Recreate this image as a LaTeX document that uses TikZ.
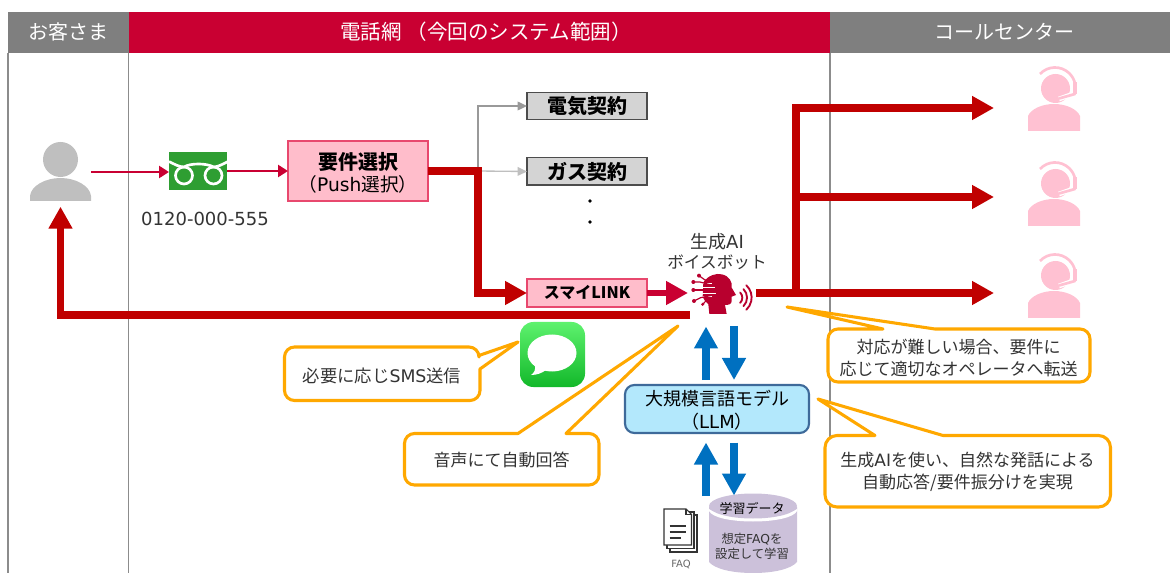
\documentclass[tikz,border=0pt]{standalone}
\usepackage{fontspec}
\setmainfont{Noto Sans CJK JP}
\newfontfamily\lat{DejaVu Sans}
\usetikzlibrary{arrows.meta,calc,shadings}
\definecolor{hdgray}{HTML}{7F7F7F}
\definecolor{hdred}{HTML}{C90032}
\definecolor{thickred}{HTML}{C00000}
\definecolor{pinkfill}{HTML}{FFBDCB}
\definecolor{pinkline}{HTML}{E8486E}
\definecolor{oppink}{HTML}{FFC1D2}
\definecolor{psngray}{HTML}{BFBFBF}
\definecolor{ored}{HTML}{FFA800}
\definecolor{lblue}{HTML}{B3E8FC}
\definecolor{lblueline}{HTML}{3E6A9A}
\definecolor{arblue}{HTML}{0070C0}
\definecolor{dbpurple}{HTML}{CCC1DA}
\definecolor{fdgreen}{HTML}{2E9E32}
\definecolor{botred}{HTML}{B8002E}
\definecolor{txt}{HTML}{333333}
\definecolor{smstop}{HTML}{5EF26E}
\definecolor{smsbot}{HTML}{12B82A}
\tikzset{
  x=0.75pt,y=-0.75pt,
  blank/.style={inner sep=0pt,outer sep=0pt},
  hdtext/.style={blank,text=white,font=\fontsize{15}{18}\selectfont},
  hdline/.style={draw=black!45,line width=1.1pt},
  rectbox/.style={blank,draw=pinkline,fill=pinkfill,line width=1.1pt,minimum height=21pt,minimum width=90pt,text=black},
  graybox/.style={blank,draw=black!70,fill=black!17,line width=1pt,minimum width=90pt,minimum height=20.5pt,text=black,font=\fontsize{15}{18}\selectfont\bfseries},
  thinred/.style={draw=hdred,line width=2.2pt,-{Triangle[length=7.5pt,width=9pt]}},
  bigred/.style={draw=thickred,line width=5.4pt,miter limit=10,-{Triangle[length=16.5pt,width=17pt]}},
  medred/.style={draw=hdred,line width=5pt,-{Triangle[length=16.5pt,width=17pt]}},
  grayarr/.style={draw=#1,line width=1pt,-{Triangle[length=7pt,width=6.5pt]}},
  bluearr/.style={draw=arblue,line width=5.4pt,-{Triangle[length=16.5pt,width=17pt]}},
  callout/.style={draw=ored,fill=white,line width=2.3pt,line join=round},
  calltext/.style={blank,align=center,text=txt,font=\fontsize{12.75}{16.5}\selectfont},
  lbl/.style={blank,align=center,text=txt},
}
\begin{document}
\begin{tikzpicture}
\useasboundingbox (0,0) rectangle (1170,573);
% header bands
\fill[hdgray] (8,12) rectangle (129,53);
\fill[hdred] (129,12) rectangle (830,53);
\fill[hdgray] (830,12) rectangle (1170,53);
\node[hdtext] (hcust) at (68,31.5) {お客さま};
\node[hdtext,font=\fontsize{15.4}{18}\selectfont] (hnet) at (486,31.5) {電話網 （今回のシステム範囲）};
\node[hdtext] (hcc) at (1004,31.5) {コールセンター};
% column rules
\draw[hdline] (8,53) -- (8,573);
\draw[hdline] (128.5,53) -- (128.5,573);
\draw[hdline] (830,53) -- (830,573);
% customer
\node[blank,minimum width=45.75pt,minimum height=45pt] (cust) at (60.5,172) {};
\fill[psngray] (60.5,159.5) circle[radius=17.5];
\fill[psngray] (30,201) -- (30,196) .. controls (31,186) and (45,178) .. (60.5,178) .. controls (76,178) and (90,186) .. (91,196) -- (91,201) -- cycle;
% free dial
\node[blank,fill=fdgreen,minimum width=43.5pt,minimum height=28.5pt] (dial) at (198,171) {};
\begin{scope}[draw=white,line width=2pt]
\draw (184,175.5) circle[radius=8.5];
\draw (213.5,175.5) circle[radius=8.5];
\draw (169,161.5) .. controls (174,164) and (179,167) .. (184,167) .. controls (190,163) and (207,163) .. (213.5,167) .. controls (218,167) and (223,164) .. (228,161.5);
\end{scope}
\node[lbl,font=\lat\fontsize{13.5}{15}\selectfont] (num) at (205,219) {0120-000-555};
% requirement box
\node[rectbox,minimum width=105pt,minimum height=45pt] (req) at (358,171) {};
\node[blank,align=center,text=black] (reqt) at (358,173) {{\fontsize{15}{18}\selectfont\bfseries 要件選択}\\[2pt]{\fontsize{14}{18}\selectfont （{\lat Push}選択）}};
\draw[thinred] (cust.east) -- (cust.east -| dial.west);
\draw[thinred] (dial.east) -- (req.west);
% menu boxes
\node[graybox] (elec) at (587,106) {電気契約};
\node[graybox] (gas) at (587,171.5) {ガス契約};
\fill[black] (590,201) circle[radius=1.8];
\fill[black] (590,222) circle[radius=1.8];
\node[rectbox,font=\fontsize{12}{15}\selectfont\bfseries] (smile) at (587,293) {スマイLINK};
\coordinate (turn) at (478,171);
\draw[grayarr=black!40] (turn) |- (elec.west);
\draw[grayarr=black!25] (turn) -- (gas.west);
\draw[bigred] (req.east) -| ($(turn)+(0,122)$) -- (smile.west);
% bot
\node[blank,minimum width=50pt,minimum height=30pt] (bot) at (722.5,293) {};
\node[lbl,font=\fontsize{13.5}{15}\selectfont] (botl) at (717,242) {生成{\lat AI}};
\node[lbl,font=\fontsize{12.5}{15}\selectfont] (botm) at (717,262) {ボイスボット};
\draw[medred] (smile.east) -- (688,293);
\begin{scope}[shift={(680,265)},x=0.25pt,y=-0.25pt]
\fill[botred] (70,52) .. controls (85,30) and (110,24) .. (125,28) .. controls (148,32) and (158,52) .. (155,68) -- (168,90) -- (155,95) -- (155,108) .. controls (155,118) and (145,120) .. (135,120) -- (140,147) -- (88,147) -- (85,118) .. controls (78,110) and (70,104) .. (68,96) -- cycle;
\begin{scope}[draw=white,line width=0.7pt]
\draw (55,56) -- (95,56); \draw (60,67) -- (105,67); \draw (50,84) -- (108,84); \draw (62,95) -- (95,95);
\end{scope}
\begin{scope}[draw=botred,line width=0.9pt]
\draw (57,32) -- (75,45) -- (100,45);
\draw (40,51) -- (60,51) -- (100,62);
\draw (40,75) -- (105,75);
\draw (42,108) -- (62,98) -- (100,90);
\draw (68,118) -- (85,100);
\end{scope}
\fill[botred] (57,32) circle[radius=6] (40,51) circle[radius=6] (40,75) circle[radius=6] (42,108) circle[radius=6] (68,118) circle[radius=5];
\begin{scope}[draw=botred,line width=1.4pt,line cap=round]
\draw (180.5,82.5) arc[start angle=-45,end angle=45,radius=22];
\draw (190.5,72.5) arc[start angle=-45,end angle=45,radius=36];
\draw (199,61) arc[start angle=-47,end angle=47,radius=50];
\end{scope}
\end{scope}
% operators
\foreach \n/\cy/\t in {op1/108/68,op2/197/163,op3/293/255}{
  \node[blank,minimum width=39pt,minimum height=30pt] (\n) at (1054,\cy) {};
  \begin{scope}[shift={(0,\t)}]
    \fill[oppink] (1055.5,20.5) circle[radius=14.5];
    \draw[oppink,line width=2pt] (1040,6) arc[start angle=-137,end angle=-10,radius=20.5];
    \fill[oppink] (1073,14) rectangle (1077,26);
    \draw[white,line width=3.6pt] (1073,26) -- (1059,31);
    \draw[oppink,line width=2pt,line cap=round] (1075,26) -- (1059,30.5);
    \fill[oppink] (1028,63) -- (1028,48) .. controls (1031,41) and (1042,36) .. (1054,36) .. controls (1066,36) and (1077,41) .. (1080,48) -- (1080,63) -- cycle;
  \end{scope}
}
% branch lines
\coordinate (branch) at (796,293);
\draw[bigred,shorten >=25.5pt] (bot.east) -- (op3.west);
\draw[bigred,shorten >=25.5pt] (branch) |- (op1.west);
\draw[bigred,shorten >=25.5pt] (branch |- op2.west) -- (op2.west);
% return line
\coordinate (ret) at (690,315);
\draw[bigred,shorten >=3.5pt] (ret) -| (cust.south);
% SMS icon
\node[blank,minimum width=49pt,minimum height=49pt] (sms) at (552.5,354.5) {};
\shade[top color=smstop,bottom color=smsbot,rounded corners=10pt] (520,322) rectangle (585,387);
\fill[white] (552,353) ellipse[x radius=24.5,y radius=18.5];
\fill[white] (535,364) .. controls (536,370) and (534,373) .. (531,375) .. controls (537,375) and (542,373) .. (546,370) -- cycle;
% LLM
\node[blank,draw=lblueline,fill=lblue,line width=1.6pt,rounded corners=7pt,minimum width=138pt,minimum height=36pt] (llm) at (717,409) {};
\node[lbl,text=black,font=\fontsize{13.5}{17}\selectfont] (llmt) at (717,410) {大規模言語モデル\\（{\lat LLM}）};
% database
\fill[dbpurple] (709,507) -- (709,562) .. controls (715,569) and (732,573) .. (753,573) .. controls (774,573) and (791,569) .. (797,562) -- (797,507) -- cycle;
\fill[white] (709,509) .. controls (720,518) and (786,518) .. (797,509) -- (797,511) .. controls (790,525) and (716,525) .. (709,511) -- cycle;
\fill[dbpurple] (753,506) ellipse[x radius=44,y radius=12.5];
\node[blank,minimum width=66pt,minimum height=58pt] (db) at (753,534) {};
\node[lbl,text=black,font=\fontsize{9.75}{13}\selectfont] (dbt) at (752,508) {学習データ};
\node[lbl,font=\fontsize{9.25}{11.25}\selectfont] (dbb) at (752,546.5) {想定{\lat FAQ}を\\設定して学習};
% blue arrows
\coordinate (u1a) at (706,380); \coordinate (u1b) at (706,326.5);
\coordinate (d1a) at (734,326); \coordinate (d1b) at (734,380);
\coordinate (u2a) at (706,496); \coordinate (u2b) at (706,442.5);
\coordinate (d2a) at (734,442.5); \coordinate (d2b) at (734,495.5);
\draw[bluearr] (u1a) -- (u1b);
\draw[bluearr] (d1a) -- (d1b);
\draw[bluearr] (u2a) -- (u2b);
\draw[bluearr] (d2a) -- (d2b);
% documents
\begin{scope}[draw=black!80,line width=0.8pt,fill=white]
\filldraw (670,515) rectangle (697,552);
\filldraw (667,512) rectangle (694,548.5);
\filldraw (664,509) -- (686,509) -- (691.5,514.5) -- (691.5,545) -- (664,545) -- cycle;
\draw (686,509) -- (686,514.5) -- (691.5,514.5);
\draw (669.5,526) -- (686,526) (669.5,532) -- (686,532) (669.5,538) -- (681,538);
\end{scope}
\node[lbl,text=black!60,font=\lat\fontsize{7.5}{9}\selectfont] (faq) at (681,564) {FAQ};
% callouts
\draw[callout] (320,347) [rounded corners=7.5pt] -- (479,347) [sharp corners] -- (479,355.5) -- (518,342) -- (480,369) [rounded corners=7.5pt] -- (480,400.5) -- (284.5,400.5) -- (284.5,347) -- (320,347);
\node[calltext,font=\fontsize{13}{15}\selectfont] (c1) at (382,376) {必要に応じ{\lat SMS}送信};
\draw[callout] (404.5,460) [rounded corners=7.5pt] -- (404.5,433.5) [sharp corners] -- (518,433.5) -- (678,326) -- (566,433.5) [rounded corners=7.5pt] -- (599,433.5) -- (599,485) -- (404.5,485) -- (404.5,460);
\node[calltext] (c2) at (501.5,460) {音声にて自動回答};
\draw[callout] (828,355) [rounded corners=7.5pt] -- (828,329) [sharp corners] -- (883,329) -- (787,307) -- (935,329) [rounded corners=7.5pt] -- (1090,329) -- (1090,382) -- (828,382) -- (828,355);
\node[calltext] (c3) at (958.5,358) {対応が難しい場合、要件に\\応じて適切なオペレータへ転送};
\draw[callout] (825,470) [rounded corners=9pt] -- (825,435.5) [sharp corners] -- (875,435.5) -- (818,399) -- (943,435.5) [rounded corners=9pt] -- (1110.5,435.5) -- (1110.5,507) -- (825,507) -- (825,470);
\node[calltext] (c4) at (967.5,472) {生成{\lat AI}を使い、自然な発話による\\自動応答/要件振分けを実現};
\end{tikzpicture}
\end{document}
